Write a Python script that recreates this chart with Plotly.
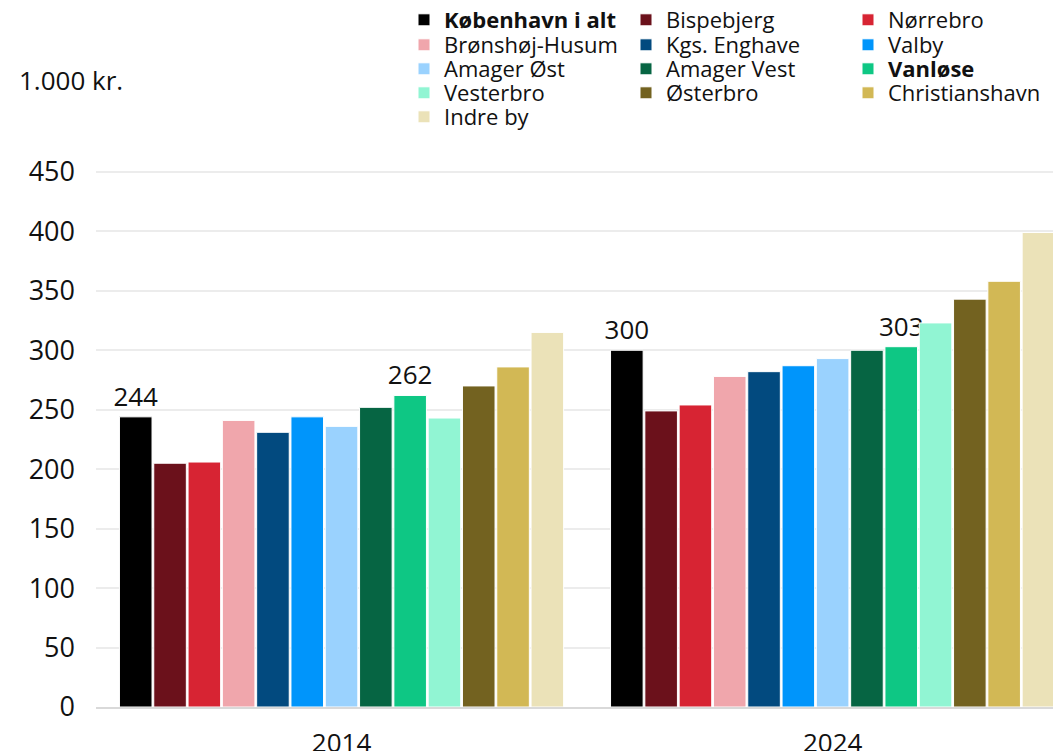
import plotly.graph_objects as go

years = ["2014", "2024"]
districts = ["København i alt", "Bispebjerg", "Nørrebro", "Brønshøj-Husum", "Kgs. Enghave",
             "Valby", "Amager Øst", "Amager Vest", "Vanløse", "Vesterbro", "Østerbro",
             "Christianshavn", "Indre by"]
values_2014 = [244, 205, 206, 241, 231, 244, 236, 252, 262, 243, 270, 286, 315]
values_2024 = [300, 249, 254, 278, 282, 287, 293, 300, 303, 323, 343, 358, 399]
highlighted = ["København i alt", "Vanløse"]
colors = ["#000000", "#6b111b", "#d72433", "#f0a6ac", "#024a7f", "#0095fb", "#9ad2fe",
          "#066543", "#0ec784", "#91f5d3", "#736220", "#d2b855", "#ebe2b8"]
y_ticks = [0, 50, 100, 150, 200, 250, 300, 350, 400, 450]

FONT = "Open Sans"
OFF = 8  # page body margin offset
W, H = 1061 - OFF, 751 - OFF

fig = go.Figure()
for i, name in enumerate(districts):
    vals = [values_2014[i], values_2024[i]]
    hl = name in highlighted
    row = i // 3
    fig.add_trace(go.Bar(
        x=years, y=vals,
        name=f"<b>{name}</b>" if hl else name,
        marker=dict(color=colors[i], line=dict(color="white", width=1)),
        text=[str(v) for v in vals] if hl else None,
        textposition="outside" if hl else "none",
        constraintext="none",
        textfont=dict(family=FONT, size=26, color="#111111"),
        cliponaxis=False,
        legend="legend" if row == 0 else f"legend{row + 1}",
    ))

row_centers = [20, 45, 69, 93, 117]
legend_layout = {}
for r, yc in enumerate(row_centers):
    key = "legend" if r == 0 else f"legend{r + 1}"
    legend_layout[key] = dict(
        orientation="h", xref="container", yref="container",
        x=(404 - OFF) / W, xanchor="left", y=1 - (yc - OFF) / H, yanchor="middle",
        entrywidth=177, entrywidthmode="pixels",
        font=dict(family=FONT, size=22, color="#111111"),
        bgcolor="rgba(0,0,0,0)", borderwidth=0, traceorder="normal",
    )

fig.update_layout(
    width=W, height=H,
    margin=dict(l=96 - OFF, r=0, t=160 - OFF, b=44, autoexpand=False),
    paper_bgcolor="white", plot_bgcolor="white",
    barmode="group", bargap=0.092, bargroupgap=0.05,
    font=dict(family=FONT, color="#111111"),
    showlegend=True,
    **legend_layout,
)
fig.update_xaxes(
    type="category", range=[-0.5, 1.465], showgrid=False,
    showline=True, linecolor="#d9d9d9", linewidth=2,
    tickfont=dict(family=FONT, size=26, color="#111111"), ticklabelstandoff=12,
)
fig.update_yaxes(
    range=[0, 460], tickvals=y_ticks, ticktext=[str(v) for v in y_ticks],
    showgrid=True, gridcolor="#ececec", gridwidth=2, zeroline=False,
    tickfont=dict(family=FONT, size=27, color="#111111"), ticklabelstandoff=20,
)
fig.add_annotation(
    text="1.000 kr.", xref="paper", yref="paper",
    x=(17 - 96) / 965, xanchor="left", y=(707 - 80) / 547, yanchor="middle",
    showarrow=False, font=dict(family=FONT, size=26, color="#111111"),
)
fig.write_html("out.html")
